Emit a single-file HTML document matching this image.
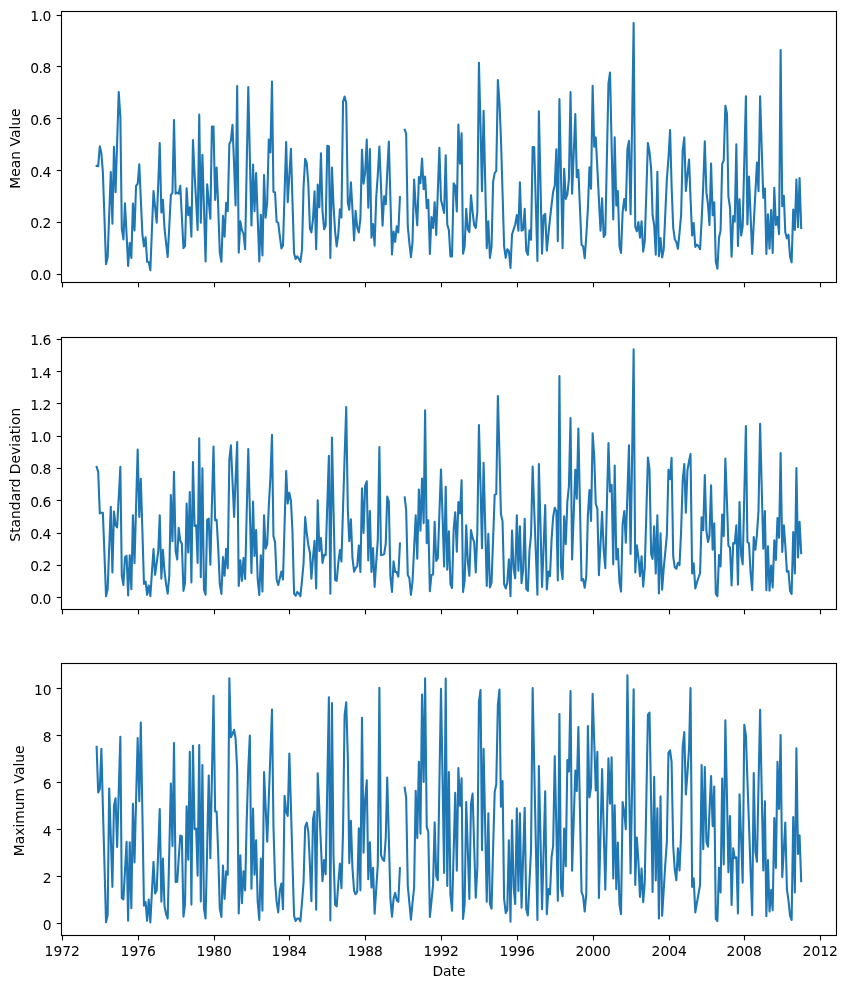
<!DOCTYPE html>
<html lang="en">
<head>
<meta charset="utf-8">
<title>Monthly statistics</title>
<style>
html,body{margin:0;padding:0;background:#fff;}
body{width:847px;height:988px;overflow:hidden;}
svg{display:block;}
text{font-family:"DejaVu Sans", "Liberation Sans", sans-serif;font-size:13.889px;fill:#000;}
.tl{letter-spacing:-0.60px;}
.sp{fill:none;stroke:#000;stroke-width:1.111;stroke-linecap:square;}
.tk{stroke:#000;stroke-width:1.111;stroke-linecap:butt;}
.ln{fill:none;stroke:#1f77b4;stroke-width:2.0833;stroke-linejoin:round;stroke-linecap:square;}
</style>
</head>
<body>
<svg width="847" height="988" viewBox="0 0 847 988">
<rect x="0" y="0" width="847" height="988" fill="#ffffff"/>
<defs>
<clipPath id="c0"><rect x="61.403" y="10.722" width="775.000" height="271.765"/></clipPath>
<clipPath id="c1"><rect x="61.403" y="336.840" width="775.000" height="271.765"/></clipPath>
<clipPath id="c2"><rect x="61.403" y="662.957" width="775.000" height="271.765"/></clipPath>
</defs>
<g>
<path class="ln" clip-path="url(#c0)" d="M96.63 165.88 L98.19 166.12 L99.80 146.21 L101.40 153.56 L102.86 172.14 L104.47 218.24 L106.02 264.18 L107.63 257.35 L109.19 214.54 L110.80 172.02 L112.41 223.67 L113.96 146.77 L115.57 192.25 L117.13 142.05 L118.74 92.01 L120.35 116.86 L121.80 228.71 L123.41 239.46 L124.97 203.17 L126.58 234.51 L128.13 266.00 L129.74 242.98 L131.35 257.90 L132.91 203.59 L134.52 230.38 L136.07 185.83 L137.68 183.74 L139.29 164.34 L140.80 199.17 L142.41 234.30 L143.96 246.44 L145.57 237.39 L147.13 261.81 L148.74 261.98 L150.35 270.13 L151.90 230.32 L153.51 191.02 L155.07 206.78 L156.68 222.70 L158.29 182.77 L159.74 143.00 L161.35 212.50 L162.91 199.68 L164.52 228.71 L166.07 242.89 L167.68 256.92 L169.29 226.13 L170.85 195.19 L172.46 192.40 L174.01 119.95 L175.62 193.64 L177.23 192.70 L178.68 193.64 L180.29 185.71 L181.85 216.84 L183.46 248.12 L185.02 246.17 L186.63 188.23 L188.23 215.29 L189.79 207.36 L191.40 236.67 L192.96 139.93 L194.57 174.24 L196.17 202.17 L197.63 229.96 L199.24 114.64 L200.79 222.70 L202.40 154.70 L203.96 207.97 L205.57 261.39 L207.18 184.31 L208.73 201.48 L210.34 218.79 L211.90 126.63 L213.51 126.59 L215.12 199.93 L216.62 167.55 L218.23 207.76 L219.79 252.46 L221.40 261.81 L222.96 215.74 L224.56 236.67 L226.17 202.75 L227.73 211.10 L229.34 144.10 L230.90 140.60 L232.50 124.84 L234.11 165.10 L235.57 205.52 L237.18 86.15 L238.73 252.59 L240.34 221.33 L241.90 230.11 L243.51 233.60 L245.12 249.24 L246.67 168.11 L248.28 87.12 L249.84 156.23 L251.45 225.49 L253.06 164.48 L254.51 211.10 L256.12 173.14 L257.68 217.19 L259.29 261.39 L260.84 214.77 L262.45 255.38 L264.06 174.96 L265.62 217.67 L267.23 202.17 L268.78 139.51 L270.39 152.44 L272.00 81.54 L273.45 191.70 L275.06 192.40 L276.62 221.73 L278.23 222.85 L279.79 235.70 L281.39 248.40 L283.00 245.48 L284.56 193.60 L286.17 142.02 L287.73 202.30 L289.34 175.42 L290.94 148.70 L292.45 200.78 L294.06 253.16 L295.62 259.01 L297.22 256.25 L298.78 258.75 L300.39 261.81 L302.00 249.67 L303.56 186.81 L305.17 158.89 L306.72 162.78 L308.33 184.01 L309.94 228.71 L311.39 232.47 L313.00 218.94 L314.56 191.30 L316.17 249.24 L317.72 184.59 L319.33 207.33 L320.94 153.30 L322.50 211.25 L324.11 229.26 L325.67 225.64 L327.27 145.79 L328.88 146.21 L330.34 257.90 L331.95 167.55 L333.50 204.97 L335.11 231.51 L336.67 246.44 L338.28 234.30 L339.89 209.18 L341.44 217.39 L343.05 101.49 L344.61 96.48 L346.22 102.89 L347.83 202.87 L349.28 209.71 L350.89 182.22 L352.45 209.16 L354.06 240.44 L355.61 210.85 L357.22 227.32 L358.83 232.47 L360.39 218.94 L362.00 149.67 L363.55 183.59 L365.16 172.14 L366.77 139.51 L368.28 207.61 L369.88 149.11 L371.44 237.64 L373.05 224.12 L374.61 245.61 L376.22 197.28 L377.83 174.24 L379.38 146.49 L380.99 186.06 L382.55 225.77 L384.16 196.19 L385.77 204.12 L387.22 172.79 L388.83 141.60 L390.39 197.93 L391.99 254.41 L393.55 231.53 L395.16 241.83 L396.77 226.22 L398.33 232.47 L399.93 197.17"/>
<path class="ln" clip-path="url(#c0)" d="M404.71 129.73 L406.16 133.62 L407.77 225.92 L409.33 242.68 L410.94 257.20 L412.49 242.68 L414.10 179.43 L415.71 206.36 L417.27 225.49 L418.88 177.05 L420.44 183.17 L422.04 158.47 L423.65 189.17 L425.11 176.63 L426.72 208.31 L428.27 199.68 L429.88 253.99 L431.44 217.14 L433.05 227.87 L434.66 202.19 L436.21 234.85 L437.82 191.21 L439.38 147.72 L440.99 200.08 L442.60 206.36 L444.10 212.92 L445.71 155.26 L447.27 224.52 L448.88 230.11 L450.43 256.37 L452.04 256.50 L453.65 183.20 L455.21 185.69 L456.82 211.52 L458.37 124.42 L459.98 163.61 L461.59 133.22 L463.05 253.71 L464.65 246.17 L466.21 208.76 L467.82 229.41 L469.38 232.06 L470.99 195.21 L472.60 211.95 L474.15 225.22 L475.76 227.87 L477.32 211.95 L478.93 62.68 L480.54 126.83 L481.99 191.13 L483.60 110.87 L485.16 179.42 L486.76 248.12 L488.32 221.33 L489.93 257.90 L491.54 246.87 L493.10 181.92 L494.70 172.84 L496.26 171.16 L497.87 80.14 L499.48 103.32 L500.93 138.24 L502.54 192.21 L504.10 246.17 L505.71 257.90 L507.26 249.27 L508.87 251.06 L510.48 267.95 L512.04 234.30 L513.65 229.41 L515.21 224.52 L516.81 215.05 L518.42 230.66 L519.93 182.22 L521.54 230.66 L523.09 229.83 L524.70 208.76 L526.26 251.06 L527.87 254.82 L529.48 230.41 L531.03 239.74 L532.64 147.02 L534.20 147.00 L535.81 204.06 L537.42 260.97 L538.87 111.29 L540.48 182.42 L542.04 253.71 L543.65 215.44 L545.20 213.93 L546.81 250.63 L548.42 234.30 L549.98 218.94 L551.59 204.97 L553.14 191.70 L554.75 185.41 L556.36 149.39 L557.82 241.14 L559.42 99.00 L560.98 173.48 L562.59 248.12 L564.15 168.67 L565.76 198.95 L567.37 194.49 L568.92 179.13 L570.53 92.01 L572.09 193.64 L573.70 153.79 L575.31 114.08 L576.76 177.16 L578.37 170.07 L579.92 207.27 L581.53 244.78 L583.09 246.17 L584.70 258.18 L586.31 235.70 L587.87 209.16 L589.47 167.27 L591.03 188.75 L592.64 85.73 L594.25 146.74 L595.75 137.41 L597.36 168.34 L598.92 199.58 L600.53 230.66 L602.09 198.28 L603.70 236.94 L605.30 234.30 L606.86 158.82 L608.47 83.33 L610.03 72.46 L611.64 145.90 L613.24 219.48 L614.70 137.41 L616.31 205.52 L617.86 191.02 L619.47 246.17 L621.03 253.01 L622.64 211.95 L624.25 198.98 L625.80 210.40 L627.41 148.98 L628.97 140.90 L630.58 214.32 L632.19 118.52 L633.64 23.07 L635.25 226.62 L636.81 231.36 L638.42 222.03 L639.97 237.64 L641.58 221.33 L643.19 251.61 L644.75 241.29 L646.36 191.99 L647.91 143.00 L649.52 151.89 L651.13 168.65 L652.59 215.44 L654.19 225.22 L655.75 254.82 L657.36 171.74 L658.92 256.22 L660.53 238.09 L662.13 257.48 L663.69 249.67 L665.30 213.35 L666.86 179.13 L668.47 158.17 L670.08 130.01 L671.58 185.41 L673.19 227.32 L674.75 239.19 L676.36 241.98 L677.91 248.82 L679.52 232.90 L681.13 214.75 L682.69 150.49 L684.30 137.41 L685.85 190.85 L687.46 174.24 L689.07 159.45 L690.52 197.98 L692.13 235.55 L693.69 223.15 L695.30 247.00 L696.86 244.66 L698.46 246.03 L700.07 249.24 L701.63 220.33 L703.24 185.41 L704.80 141.18 L706.41 192.40 L708.01 204.69 L709.47 225.07 L711.08 163.64 L712.63 215.29 L714.24 202.19 L715.80 261.54 L717.41 268.79 L719.02 237.79 L720.57 230.81 L722.18 164.18 L723.74 160.27 L725.35 105.70 L726.96 113.36 L728.41 196.59 L730.02 207.76 L731.58 256.78 L733.19 216.16 L734.74 221.58 L736.35 144.40 L737.96 246.02 L739.52 199.40 L741.13 235.55 L742.68 226.62 L744.29 161.26 L745.90 96.20 L747.41 224.37 L749.02 176.63 L750.57 215.23 L752.18 253.99 L753.74 223.55 L755.35 192.95 L756.96 162.66 L758.51 191.13 L760.12 96.20 L761.68 146.94 L763.29 197.83 L764.90 188.51 L766.35 253.99 L767.96 214.35 L769.52 248.82 L771.13 210.16 L772.68 253.01 L774.29 187.81 L775.90 225.07 L777.46 217.14 L779.07 234.15 L780.62 50.11 L782.23 206.21 L783.84 195.77 L785.29 232.21 L786.90 238.34 L788.46 234.60 L790.07 256.65 L791.63 262.37 L793.23 209.46 L794.84 229.96 L796.40 179.43 L798.01 227.17 L799.57 178.03 L801.18 227.87"/>
<line class="tk" x1="62.5" y1="282.50" x2="62.5" y2="287.36"/>
<line class="tk" x1="138.5" y1="282.50" x2="138.5" y2="287.36"/>
<line class="tk" x1="214.5" y1="282.50" x2="214.5" y2="287.36"/>
<line class="tk" x1="289.5" y1="282.50" x2="289.5" y2="287.36"/>
<line class="tk" x1="365.5" y1="282.50" x2="365.5" y2="287.36"/>
<line class="tk" x1="441.5" y1="282.50" x2="441.5" y2="287.36"/>
<line class="tk" x1="517.5" y1="282.50" x2="517.5" y2="287.36"/>
<line class="tk" x1="593.5" y1="282.50" x2="593.5" y2="287.36"/>
<line class="tk" x1="669.5" y1="282.50" x2="669.5" y2="287.36"/>
<line class="tk" x1="744.5" y1="282.50" x2="744.5" y2="287.36"/>
<line class="tk" x1="820.5" y1="282.50" x2="820.5" y2="287.36"/>
<line class="tk" x1="56.64" y1="274.5" x2="61.50" y2="274.5"/>
<text class="tl" x="50.65" y="279.50" text-anchor="end">0.0</text>
<line class="tk" x1="56.64" y1="222.5" x2="61.50" y2="222.5"/>
<text class="tl" x="50.65" y="227.50" text-anchor="end">0.2</text>
<line class="tk" x1="56.64" y1="170.5" x2="61.50" y2="170.5"/>
<text class="tl" x="50.65" y="176.50" text-anchor="end">0.4</text>
<line class="tk" x1="56.64" y1="118.5" x2="61.50" y2="118.5"/>
<text class="tl" x="50.65" y="124.50" text-anchor="end">0.6</text>
<line class="tk" x1="56.64" y1="66.5" x2="61.50" y2="66.5"/>
<text class="tl" x="50.65" y="72.50" text-anchor="end">0.8</text>
<line class="tk" x1="56.64" y1="15.5" x2="61.50" y2="15.5"/>
<text class="tl" x="50.65" y="20.50" text-anchor="end">1.0</text>
<rect class="sp" x="61.5" y="11.5" width="775.0" height="271.0"/>
<text x="19.70" y="148.60" text-anchor="middle" transform="rotate(-90 19.70 148.60)">Mean Value</text>
</g>
<g>
<path class="ln" clip-path="url(#c1)" d="M96.63 466.90 L98.19 471.91 L99.80 513.36 L101.40 512.83 L102.86 512.81 L104.47 554.57 L106.02 596.25 L107.63 589.36 L109.19 547.94 L110.80 506.82 L112.41 572.44 L113.96 511.43 L115.57 525.38 L117.13 527.33 L118.74 497.04 L120.35 466.90 L121.80 575.67 L123.41 585.01 L124.97 557.23 L126.58 555.71 L128.13 595.35 L129.74 555.29 L131.35 589.21 L132.91 515.20 L134.52 563.22 L136.07 506.26 L137.68 449.44 L139.29 516.85 L140.80 478.89 L142.41 531.32 L143.96 583.90 L145.57 581.55 L147.13 594.79 L148.74 585.46 L150.35 596.19 L151.90 572.59 L153.51 549.15 L155.07 574.82 L156.68 563.09 L158.29 550.52 L159.74 515.20 L161.35 578.59 L162.91 549.71 L164.52 571.48 L166.07 584.05 L167.68 593.68 L169.29 575.67 L170.85 494.95 L172.46 541.29 L174.01 471.79 L175.62 551.22 L177.23 559.45 L178.68 527.78 L180.29 540.75 L181.85 543.82 L183.46 590.88 L185.02 582.65 L186.63 503.61 L188.23 552.47 L189.79 492.16 L191.40 582.50 L192.96 462.01 L194.57 525.93 L196.17 525.40 L197.63 562.94 L199.24 438.27 L200.79 577.19 L202.40 468.30 L203.96 589.63 L205.57 594.79 L207.18 519.79 L208.73 518.70 L210.34 564.62 L211.90 505.56 L213.51 446.65 L215.12 520.34 L216.62 519.81 L218.23 548.43 L219.79 584.05 L221.40 593.95 L222.96 557.11 L224.56 575.80 L226.17 548.73 L227.73 568.25 L229.34 459.62 L230.90 445.25 L232.50 480.98 L234.11 516.85 L235.57 479.37 L237.18 442.04 L238.73 585.99 L240.34 560.32 L241.90 580.82 L243.51 558.09 L245.12 579.01 L246.67 513.94 L248.28 449.02 L249.84 510.94 L251.45 573.00 L253.06 501.65 L254.51 555.96 L256.12 530.15 L257.68 579.16 L259.29 595.07 L260.84 555.29 L262.45 591.58 L264.06 515.20 L265.62 548.70 L267.23 544.24 L268.78 506.52 L270.39 477.89 L272.00 434.78 L273.45 536.28 L275.06 542.14 L276.62 579.16 L278.23 585.01 L279.79 578.18 L281.39 571.50 L283.00 579.43 L284.56 525.19 L286.17 471.09 L287.73 503.58 L289.34 492.85 L290.94 500.94 L292.45 530.97 L294.06 593.55 L295.62 595.77 L297.22 592.03 L298.78 593.55 L300.39 596.19 L302.00 580.56 L303.56 563.09 L305.17 517.02 L306.72 533.06 L308.33 544.94 L309.94 553.04 L311.39 578.59 L313.00 557.51 L314.56 540.77 L316.17 588.37 L317.72 500.26 L319.33 551.07 L320.94 537.97 L322.50 562.94 L324.11 554.73 L325.67 555.26 L327.27 505.42 L328.88 455.73 L330.34 593.68 L331.95 437.57 L333.50 508.70 L335.11 580.14 L336.67 580.82 L338.28 563.09 L339.89 550.12 L341.44 561.55 L343.05 507.22 L344.61 457.02 L346.22 407.12 L347.83 510.01 L349.28 541.29 L350.89 519.39 L352.45 557.51 L354.06 571.61 L355.61 567.98 L357.22 566.17 L358.83 545.52 L360.39 572.02 L362.00 488.24 L363.55 532.91 L365.16 485.57 L366.77 481.26 L368.28 560.43 L369.88 511.01 L371.44 572.02 L373.05 548.03 L374.61 586.97 L376.22 561.70 L377.83 539.35 L379.38 446.93 L380.99 555.26 L382.55 554.71 L384.16 554.02 L385.77 543.54 L387.22 496.63 L388.83 501.63 L390.39 576.36 L391.99 592.00 L393.55 561.30 L395.16 572.02 L396.77 572.06 L398.33 576.63 L399.93 543.56"/>
<path class="ln" clip-path="url(#c1)" d="M404.71 497.46 L406.16 510.01 L407.77 574.97 L409.33 577.76 L410.94 594.79 L412.49 581.95 L414.10 548.43 L415.71 515.20 L417.27 558.75 L418.88 489.64 L420.44 530.82 L422.04 478.47 L423.65 523.13 L425.11 410.33 L426.72 543.11 L428.27 520.37 L429.88 591.16 L431.44 574.97 L433.05 574.55 L434.66 521.77 L436.21 560.85 L437.82 558.21 L439.38 513.66 L440.99 469.42 L442.60 517.85 L444.10 566.44 L445.71 486.85 L447.27 569.65 L448.88 531.27 L450.43 584.05 L452.04 588.09 L453.65 529.57 L455.21 512.41 L456.82 551.77 L458.37 501.93 L459.98 513.36 L461.59 480.28 L463.05 592.00 L464.65 580.56 L466.21 525.40 L467.82 561.70 L469.38 575.80 L470.99 530.15 L472.60 537.95 L474.15 541.86 L475.76 572.44 L477.32 532.36 L478.93 425.00 L480.54 486.56 L481.99 548.28 L483.60 462.71 L485.16 524.28 L486.76 585.99 L488.32 533.78 L489.93 587.39 L491.54 582.65 L493.10 539.35 L494.70 494.65 L496.26 493.95 L497.87 395.94 L499.48 454.92 L500.93 514.21 L502.54 521.19 L504.10 584.05 L505.71 588.37 L507.26 582.65 L508.87 559.20 L510.48 596.19 L512.04 530.57 L513.65 568.68 L515.21 578.31 L516.81 515.20 L518.42 570.63 L519.93 526.38 L521.54 583.20 L523.09 570.08 L524.70 518.70 L526.26 588.94 L527.87 590.88 L529.48 550.52 L531.03 535.16 L532.64 466.62 L534.20 509.20 L535.81 552.07 L537.42 594.79 L538.87 464.11 L540.48 525.47 L542.04 586.97 L543.65 545.91 L545.20 505.01 L546.81 589.48 L548.42 571.50 L549.98 576.21 L551.59 539.35 L553.14 517.00 L554.75 507.80 L556.36 511.13 L557.82 580.41 L559.42 376.11 L560.98 566.59 L562.59 579.01 L564.15 516.18 L565.76 544.09 L567.37 501.63 L568.92 486.27 L570.53 418.01 L572.09 559.45 L573.70 514.50 L575.31 469.70 L576.76 498.69 L578.37 428.49 L579.92 504.37 L581.53 580.41 L583.09 579.04 L584.70 587.81 L586.31 575.67 L587.87 515.60 L589.47 490.06 L591.03 521.04 L592.64 433.38 L594.25 456.87 L595.75 503.73 L597.36 508.90 L598.92 575.24 L600.53 543.40 L602.09 511.71 L603.70 550.52 L605.30 568.25 L606.86 505.63 L608.47 443.16 L610.03 491.71 L611.64 484.89 L613.24 564.34 L614.70 465.51 L616.31 559.45 L617.86 548.73 L619.47 582.65 L621.03 591.58 L622.64 523.98 L624.25 511.01 L625.80 542.69 L627.41 493.90 L628.97 445.25 L630.58 553.87 L632.19 451.43 L633.64 349.19 L635.25 572.44 L636.81 545.24 L638.42 557.51 L639.97 576.21 L641.58 556.41 L643.19 586.69 L644.75 567.98 L646.36 512.61 L647.91 457.54 L649.52 469.44 L651.13 554.02 L652.59 559.03 L654.19 526.38 L655.75 573.42 L657.36 515.20 L658.92 593.40 L660.53 533.36 L662.13 589.76 L663.69 568.68 L665.30 551.92 L666.86 535.16 L668.47 469.70 L670.08 479.13 L671.58 457.82 L673.19 556.11 L674.75 567.29 L676.36 568.81 L677.91 562.70 L679.52 565.04 L681.13 530.97 L682.69 480.68 L684.30 464.11 L685.85 512.66 L687.46 470.10 L689.07 461.02 L690.52 454.05 L692.13 573.42 L693.69 563.39 L695.30 588.37 L696.86 582.65 L698.46 577.76 L700.07 573.15 L701.63 517.30 L703.24 530.12 L704.80 475.11 L706.41 530.97 L708.01 541.99 L709.47 535.86 L711.08 485.17 L712.63 549.67 L714.24 523.17 L715.80 593.83 L717.41 596.19 L719.02 555.01 L720.57 566.44 L722.18 514.51 L723.74 536.13 L725.35 458.52 L726.96 501.93 L728.41 545.63 L730.02 547.73 L731.58 585.57 L733.19 543.14 L734.74 543.39 L736.35 525.40 L737.96 584.60 L739.52 501.93 L741.13 554.71 L742.68 564.34 L744.29 495.15 L745.90 426.12 L747.41 542.14 L749.02 543.26 L750.57 572.87 L752.18 590.18 L753.74 537.13 L755.35 549.67 L756.96 534.40 L758.51 510.65 L760.12 423.88 L761.68 486.21 L763.29 548.70 L764.90 511.01 L766.35 590.18 L767.96 546.35 L769.52 590.60 L771.13 565.49 L772.68 587.39 L774.29 540.35 L775.90 559.87 L777.46 518.00 L779.07 537.80 L780.62 452.93 L782.23 552.05 L783.84 525.40 L785.29 544.94 L786.90 571.61 L788.46 571.08 L790.07 591.03 L791.63 593.95 L793.23 531.97 L794.84 573.42 L796.40 468.02 L798.01 557.36 L799.57 521.77 L801.18 553.17"/>
<line class="tk" x1="62.5" y1="609.50" x2="62.5" y2="614.36"/>
<line class="tk" x1="138.5" y1="609.50" x2="138.5" y2="614.36"/>
<line class="tk" x1="214.5" y1="609.50" x2="214.5" y2="614.36"/>
<line class="tk" x1="289.5" y1="609.50" x2="289.5" y2="614.36"/>
<line class="tk" x1="365.5" y1="609.50" x2="365.5" y2="614.36"/>
<line class="tk" x1="441.5" y1="609.50" x2="441.5" y2="614.36"/>
<line class="tk" x1="517.5" y1="609.50" x2="517.5" y2="614.36"/>
<line class="tk" x1="593.5" y1="609.50" x2="593.5" y2="614.36"/>
<line class="tk" x1="669.5" y1="609.50" x2="669.5" y2="614.36"/>
<line class="tk" x1="744.5" y1="609.50" x2="744.5" y2="614.36"/>
<line class="tk" x1="820.5" y1="609.50" x2="820.5" y2="614.36"/>
<line class="tk" x1="56.64" y1="597.5" x2="61.50" y2="597.5"/>
<text class="tl" x="50.65" y="603.50" text-anchor="end">0.0</text>
<line class="tk" x1="56.64" y1="565.5" x2="61.50" y2="565.5"/>
<text class="tl" x="50.65" y="570.50" text-anchor="end">0.2</text>
<line class="tk" x1="56.64" y1="533.5" x2="61.50" y2="533.5"/>
<text class="tl" x="50.65" y="538.50" text-anchor="end">0.4</text>
<line class="tk" x1="56.64" y1="500.5" x2="61.50" y2="500.5"/>
<text class="tl" x="50.65" y="506.50" text-anchor="end">0.6</text>
<line class="tk" x1="56.64" y1="468.5" x2="61.50" y2="468.5"/>
<text class="tl" x="50.65" y="473.50" text-anchor="end">0.8</text>
<line class="tk" x1="56.64" y1="436.5" x2="61.50" y2="436.5"/>
<text class="tl" x="50.65" y="441.50" text-anchor="end">1.0</text>
<line class="tk" x1="56.64" y1="403.5" x2="61.50" y2="403.5"/>
<text class="tl" x="50.65" y="409.50" text-anchor="end">1.2</text>
<line class="tk" x1="56.64" y1="371.5" x2="61.50" y2="371.5"/>
<text class="tl" x="50.65" y="377.50" text-anchor="end">1.4</text>
<line class="tk" x1="56.64" y1="339.5" x2="61.50" y2="339.5"/>
<text class="tl" x="50.65" y="344.50" text-anchor="end">1.6</text>
<rect class="sp" x="61.5" y="337.5" width="775.0" height="272.0"/>
<text x="19.70" y="474.72" text-anchor="middle" transform="rotate(-90 19.70 474.72)">Standard Deviation</text>
</g>
<g>
<path class="ln" clip-path="url(#c2)" d="M96.63 746.81 L98.19 792.45 L99.80 789.11 L101.40 748.90 L102.86 806.52 L104.47 864.43 L106.02 922.19 L107.63 915.36 L109.19 788.43 L110.80 837.57 L112.41 886.85 L113.96 805.98 L115.57 798.21 L117.13 847.04 L118.74 791.82 L120.35 736.75 L121.80 898.17 L123.41 899.42 L124.97 870.59 L126.58 841.90 L128.13 920.79 L129.74 842.18 L131.35 908.22 L132.91 803.91 L134.52 862.40 L136.07 800.20 L137.68 738.15 L139.29 801.22 L140.80 722.64 L142.41 814.10 L143.96 905.71 L145.57 901.97 L147.13 920.79 L148.74 899.45 L150.35 922.37 L151.90 892.03 L153.51 861.74 L155.07 893.41 L156.68 890.49 L158.29 849.63 L159.74 809.08 L161.35 901.80 L162.91 858.66 L164.52 905.86 L166.07 914.24 L167.68 918.56 L169.29 850.98 L170.85 783.54 L172.46 845.92 L174.01 743.04 L175.62 881.96 L177.23 881.83 L178.68 858.57 L180.29 835.62 L181.85 836.29 L183.46 916.60 L185.02 904.46 L186.63 806.28 L188.23 859.61 L189.79 751.70 L191.40 904.59 L192.96 745.83 L194.57 829.16 L196.17 828.63 L197.63 875.67 L199.24 745.13 L200.79 901.52 L202.40 764.97 L203.96 908.65 L205.57 918.56 L207.18 846.93 L208.73 775.44 L210.34 858.21 L211.90 776.94 L213.51 695.82 L215.12 811.42 L216.62 811.45 L218.23 854.17 L219.79 908.65 L221.40 916.88 L222.96 865.65 L224.56 899.00 L226.17 871.24 L227.73 874.70 L229.34 678.36 L230.90 737.28 L232.50 733.94 L234.11 729.77 L235.57 738.13 L237.18 770.25 L238.73 913.39 L240.34 855.17 L241.90 903.19 L243.51 871.24 L245.12 890.34 L246.67 822.05 L248.28 768.86 L249.84 735.63 L251.45 888.67 L253.06 808.66 L254.51 874.70 L256.12 840.23 L257.68 901.67 L259.29 919.95 L260.84 858.66 L262.45 910.60 L264.06 771.95 L265.62 806.77 L267.23 841.73 L268.78 798.89 L270.39 754.19 L272.00 709.51 L273.45 826.24 L275.06 880.71 L276.62 901.67 L278.23 912.41 L279.79 890.49 L281.39 883.53 L283.00 909.20 L284.56 795.70 L286.17 811.57 L287.73 816.03 L289.34 753.51 L290.94 807.35 L292.45 861.49 L294.06 915.63 L295.62 921.07 L297.22 918.45 L298.78 918.43 L300.39 921.35 L302.00 902.36 L303.56 882.11 L305.17 826.94 L306.72 822.63 L308.33 831.82 L309.94 865.35 L311.39 901.24 L313.00 819.25 L314.56 811.45 L316.17 909.62 L317.72 773.35 L319.33 809.17 L320.94 845.29 L322.50 881.26 L324.11 860.06 L325.67 874.28 L327.27 785.67 L328.88 697.22 L330.34 920.37 L331.95 703.09 L333.50 855.57 L335.11 904.74 L336.67 906.41 L338.28 883.51 L339.89 863.55 L341.44 888.25 L343.05 830.43 L344.61 715.08 L346.22 702.39 L347.83 757.68 L349.28 863.10 L350.89 820.67 L352.45 868.14 L354.06 890.49 L355.61 894.25 L357.22 891.89 L358.83 828.21 L360.39 890.34 L362.00 717.75 L363.55 852.63 L365.16 798.89 L366.77 780.33 L368.28 879.17 L369.88 842.18 L371.44 887.55 L373.05 867.74 L374.61 913.81 L376.22 889.09 L377.83 863.95 L379.38 687.86 L380.99 854.87 L382.55 859.06 L384.16 861.01 L385.77 837.41 L387.22 777.54 L388.83 837.41 L390.39 898.87 L391.99 916.60 L393.55 898.87 L395.16 892.89 L396.77 900.27 L398.33 901.80 L399.93 868.16"/>
<path class="ln" clip-path="url(#c2)" d="M404.71 787.73 L406.16 797.49 L407.77 885.60 L409.33 902.36 L410.94 919.68 L412.49 903.06 L414.10 887.70 L415.71 790.81 L417.27 837.96 L418.88 761.89 L420.44 833.77 L422.04 694.43 L423.65 781.98 L425.11 678.36 L426.72 826.94 L428.27 831.82 L429.88 916.88 L431.44 901.67 L433.05 884.90 L434.66 822.35 L436.21 875.82 L437.82 880.28 L439.38 784.49 L440.99 688.84 L442.60 780.78 L444.10 872.88 L445.71 678.64 L447.27 885.87 L448.88 771.95 L450.43 894.68 L452.04 910.60 L453.65 851.67 L455.21 792.90 L456.82 870.79 L458.37 768.04 L459.98 805.83 L461.59 778.24 L463.05 918.98 L464.65 903.76 L466.21 802.09 L467.82 850.47 L469.38 899.00 L470.99 803.89 L472.60 793.60 L474.15 845.53 L475.76 897.61 L477.32 868.14 L478.93 701.81 L480.54 689.96 L481.99 850.11 L483.60 748.90 L485.16 825.27 L486.76 901.80 L488.32 813.27 L489.93 903.76 L491.54 908.78 L493.10 848.59 L494.70 791.90 L496.26 784.50 L497.87 704.60 L499.48 689.54 L500.93 806.81 L502.54 781.03 L504.10 898.87 L505.71 912.97 L507.26 910.05 L508.87 840.23 L510.48 921.77 L512.04 820.25 L513.65 887.70 L515.21 904.03 L516.81 808.38 L518.42 891.04 L519.93 813.27 L521.54 907.80 L523.09 857.67 L524.70 807.68 L526.26 909.35 L527.87 915.48 L529.48 882.11 L531.03 849.98 L532.64 688.14 L534.20 765.26 L535.81 842.68 L537.42 919.95 L538.87 766.08 L540.48 837.57 L542.04 909.20 L543.65 850.14 L545.20 791.23 L546.81 914.09 L548.42 889.12 L549.98 894.53 L551.59 856.97 L553.14 845.79 L554.75 756.31 L556.36 828.49 L557.82 900.82 L559.42 713.98 L560.98 887.70 L562.59 896.21 L564.15 828.63 L565.76 866.32 L567.37 760.08 L568.92 771.50 L570.53 690.93 L572.09 870.79 L573.70 820.59 L575.31 770.55 L576.76 791.06 L578.37 726.97 L579.92 809.28 L581.53 891.89 L583.09 896.08 L584.70 911.57 L586.31 893.29 L587.87 726.13 L589.47 797.34 L591.03 787.02 L592.64 693.73 L594.25 741.97 L595.75 790.36 L597.36 751.70 L598.92 898.02 L600.53 833.52 L602.09 769.16 L603.70 829.33 L605.30 889.64 L606.86 823.88 L608.47 758.26 L610.03 803.74 L611.64 757.28 L613.24 878.47 L614.70 805.30 L616.31 889.22 L617.86 842.60 L619.47 904.46 L621.03 914.09 L622.64 802.09 L624.25 812.27 L625.80 829.16 L627.41 675.31 L628.97 774.50 L630.58 873.58 L632.19 781.34 L633.64 689.26 L635.25 885.03 L636.81 837.43 L638.42 861.16 L639.97 897.05 L641.58 868.44 L643.19 902.21 L644.75 882.11 L646.36 798.38 L647.91 714.66 L649.52 712.58 L651.13 802.23 L652.59 892.02 L654.19 776.84 L655.75 880.56 L657.36 808.38 L658.92 918.56 L660.53 796.40 L662.13 915.76 L663.69 890.49 L665.30 863.95 L666.86 841.60 L668.47 752.79 L670.08 750.30 L671.58 761.87 L673.19 845.79 L674.75 869.54 L676.36 880.28 L677.91 848.19 L679.52 870.51 L681.13 833.22 L682.69 746.51 L684.30 732.14 L685.85 794.55 L687.46 773.05 L689.07 747.90 L690.52 688.14 L692.13 886.85 L693.69 878.22 L695.30 912.41 L696.86 903.06 L698.46 893.98 L700.07 884.90 L701.63 764.97 L703.24 849.13 L704.80 767.06 L706.41 841.60 L708.01 846.76 L709.47 811.38 L711.08 776.14 L712.63 826.09 L714.24 786.62 L715.80 919.13 L717.41 921.07 L719.02 867.74 L720.57 892.44 L722.18 778.66 L723.74 864.50 L725.35 720.27 L726.96 796.15 L728.41 872.18 L730.02 816.06 L731.58 905.01 L733.19 848.19 L734.74 858.21 L736.35 857.27 L737.96 913.39 L739.52 794.30 L741.13 838.40 L742.68 882.66 L744.29 724.74 L745.90 735.33 L747.41 780.34 L749.02 825.34 L750.57 870.35 L752.18 915.21 L753.74 772.93 L755.35 851.38 L756.96 861.71 L758.51 785.67 L760.12 709.79 L761.68 790.07 L763.29 870.51 L764.90 801.39 L766.35 916.18 L767.96 860.06 L769.52 911.57 L771.13 890.09 L772.68 910.18 L774.29 818.16 L775.90 867.99 L777.46 761.89 L779.07 809.05 L780.62 734.93 L782.23 877.07 L783.84 849.77 L785.29 822.63 L786.90 889.09 L788.46 900.27 L790.07 915.91 L791.63 919.95 L793.23 817.04 L794.84 892.44 L796.40 748.20 L798.01 854.02 L799.57 835.20 L801.18 881.26"/>
<line class="tk" x1="62.5" y1="935.50" x2="62.5" y2="940.36"/>
<text x="62.25" y="955.50" text-anchor="middle">1972</text>
<line class="tk" x1="138.5" y1="935.50" x2="138.5" y2="940.36"/>
<text x="138.25" y="955.50" text-anchor="middle">1976</text>
<line class="tk" x1="214.5" y1="935.50" x2="214.5" y2="940.36"/>
<text x="214.25" y="955.50" text-anchor="middle">1980</text>
<line class="tk" x1="289.5" y1="935.50" x2="289.5" y2="940.36"/>
<text x="289.25" y="955.50" text-anchor="middle">1984</text>
<line class="tk" x1="365.5" y1="935.50" x2="365.5" y2="940.36"/>
<text x="365.25" y="955.50" text-anchor="middle">1988</text>
<line class="tk" x1="441.5" y1="935.50" x2="441.5" y2="940.36"/>
<text x="441.25" y="955.50" text-anchor="middle">1992</text>
<line class="tk" x1="517.5" y1="935.50" x2="517.5" y2="940.36"/>
<text x="517.25" y="955.50" text-anchor="middle">1996</text>
<line class="tk" x1="593.5" y1="935.50" x2="593.5" y2="940.36"/>
<text x="593.25" y="955.50" text-anchor="middle">2000</text>
<line class="tk" x1="669.5" y1="935.50" x2="669.5" y2="940.36"/>
<text x="669.25" y="955.50" text-anchor="middle">2004</text>
<line class="tk" x1="744.5" y1="935.50" x2="744.5" y2="940.36"/>
<text x="744.25" y="955.50" text-anchor="middle">2008</text>
<line class="tk" x1="820.5" y1="935.50" x2="820.5" y2="940.36"/>
<text x="820.25" y="955.50" text-anchor="middle">2012</text>
<line class="tk" x1="56.64" y1="923.5" x2="61.50" y2="923.5"/>
<text x="51.65" y="929.50" text-anchor="end">0</text>
<line class="tk" x1="56.64" y1="876.5" x2="61.50" y2="876.5"/>
<text x="51.65" y="882.50" text-anchor="end">2</text>
<line class="tk" x1="56.64" y1="829.5" x2="61.50" y2="829.5"/>
<text x="51.65" y="835.50" text-anchor="end">4</text>
<line class="tk" x1="56.64" y1="782.5" x2="61.50" y2="782.5"/>
<text x="51.65" y="788.50" text-anchor="end">6</text>
<line class="tk" x1="56.64" y1="735.5" x2="61.50" y2="735.5"/>
<text x="51.65" y="741.50" text-anchor="end">8</text>
<line class="tk" x1="56.64" y1="688.5" x2="61.50" y2="688.5"/>
<text x="51.65" y="694.50" text-anchor="end">10</text>
<rect class="sp" x="61.5" y="663.5" width="775.0" height="272.0"/>
<text x="23.70" y="800.84" text-anchor="middle" transform="rotate(-90 23.70 800.84)">Maximum Value</text>
</g>
<text x="449.00" y="975.50" text-anchor="middle">Date</text>
</svg>
</body>
</html>
